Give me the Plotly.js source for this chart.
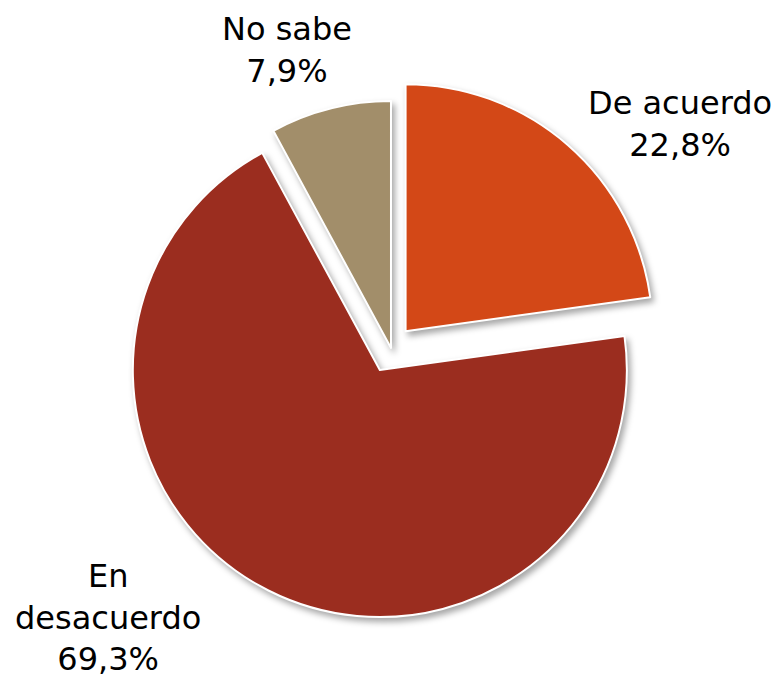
<!DOCTYPE html>
<html>
<head>
<meta charset="utf-8">
<script src="https://cdn.plot.ly/plotly-3.0.1.min.js"></script>
<style>
  html, body { margin: 0; padding: 0; background: #fff; }
  #chart { width: 777px; height: 680px; }
  .slice path.surface { filter: drop-shadow(3px 4px 3px rgba(0,0,0,0.35)); }
</style>
</head>
<body>
<div id="chart"></div>
<script>
// Data
var labels = ["De acuerdo", "En desacuerdo", "No sabe"];
var labelLines = ["De acuerdo", "En<br>desacuerdo", "No sabe"];
var values = [22.8, 69.3, 7.9];
var colors = ["#D34817", "#9B2D1F", "#A28E6A"];
var pulls = [0.09, 0.10, 0];
// label placement (paper coords)
var labelX = [0.875, 0.139, 0.369];
var labelY = [0.818, 0.092, 0.926];

function fmt(v) { return v.toFixed(1).replace(".", ",") + "%"; }

var annotations = labels.map(function (l, i) {
  return {
    xref: "paper", yref: "paper",
    x: labelX[i], y: labelY[i],
    xanchor: "center", yanchor: "middle",
    showarrow: false,
    text: labelLines[i] + "<br>" + fmt(values[i]),
    font: { family: "DejaVu Sans, Verdana, sans-serif", size: 32, color: "#000" }
  };
});

var trace = {
  type: "pie",
  labels: labels,
  values: values,
  sort: false,
  direction: "clockwise",
  rotation: 0,
  pull: pulls,
  marker: { colors: colors, line: { color: "#ffffff", width: 2 } },
  textinfo: "none",
  hoverinfo: "none",
  showlegend: false,
  domain: { x: [0.1535, 0.8529], y: [0.0886, 0.8878] }
};

var layout = {
  width: 777, height: 680,
  margin: { l: 0, r: 0, t: 0, b: 0 },
  paper_bgcolor: "#ffffff",
  showlegend: false,
  annotations: annotations
};

Plotly.newPlot("chart", [trace], layout, { displayModeBar: false, staticPlot: true });
</script>
</body>
</html>
